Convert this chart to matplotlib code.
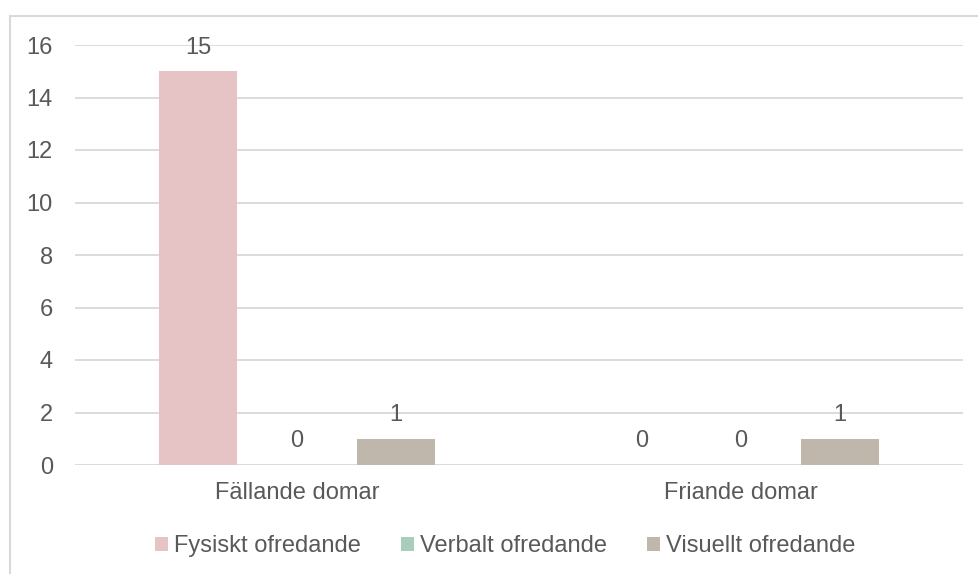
import matplotlib.pyplot as plt
import numpy as np
from matplotlib.patches import Rectangle

plt.rcParams['font.family'] = ['Liberation Sans', 'DejaVu Sans']

# data
kategorier = ["Fällande domar", "Friande domar"]
serier = ["Fysiskt ofredande", "Verbalt ofredande", "Visuellt ofredande"]
fysiskt = [15, 0]
verbalt = [0, 0]
visuellt = [1, 1]
farger = ['#E6C3C5', '#A9CDB9', '#BFB6AC']

textfarg = '#595959'
fs = 17

fig = plt.figure(figsize=(9.79, 5.74), dpi=100)
ax = fig.add_axes([75 / 979, 1 - 465 / 574, 888 / 979, 420 / 574])

# ram runt diagrammet
fig.patches.append(Rectangle((10 / 979, -0.1), 1.2, 1 - 16 / 574 + 0.1,
                             transform=fig.transFigure, fill=False,
                             edgecolor='#D9D9D9', linewidth=1.5))

x = np.arange(len(kategorier))
bredd = 0.176
steg = 0.223
for i, (namn, varden) in enumerate(zip(serier, [fysiskt, verbalt, visuellt])):
    pos = x + (i - 1) * steg
    ax.bar(pos, varden, width=bredd, color=farger[i], label=namn, zorder=3)
    for p, v in zip(pos, varden):
        ax.annotate(str(v), (p, v), xytext=(0, 17), textcoords='offset points',
                    ha='center', va='center', fontsize=fs, color=textfarg, zorder=4)

ax.set_xlim(-0.5, 1.5)
ax.set_ylim(0, 16)
ax.set_yticks(range(0, 17, 2))
ax.set_xticks(x)
ax.set_xticklabels(kategorier)
ax.tick_params(axis='both', length=0, labelsize=fs, labelcolor=textfarg)
ax.tick_params(axis='y', pad=16)
ax.tick_params(axis='x', pad=12)
ax.grid(axis='y', color='#D9D9D9', linewidth=1.3, zorder=0)
for s in ax.spines.values():
    s.set_visible(False)

ax.legend(loc='center', bbox_to_anchor=(505 / 979, (574 - 546) / 574), bbox_transform=fig.transFigure,
          ncol=3, frameon=False, fontsize=fs, labelcolor=textfarg,
          handlelength=0.55, handleheight=0.55, handletextpad=0.25, columnspacing=1.7)

fig.savefig('out.png', dpi=100)
